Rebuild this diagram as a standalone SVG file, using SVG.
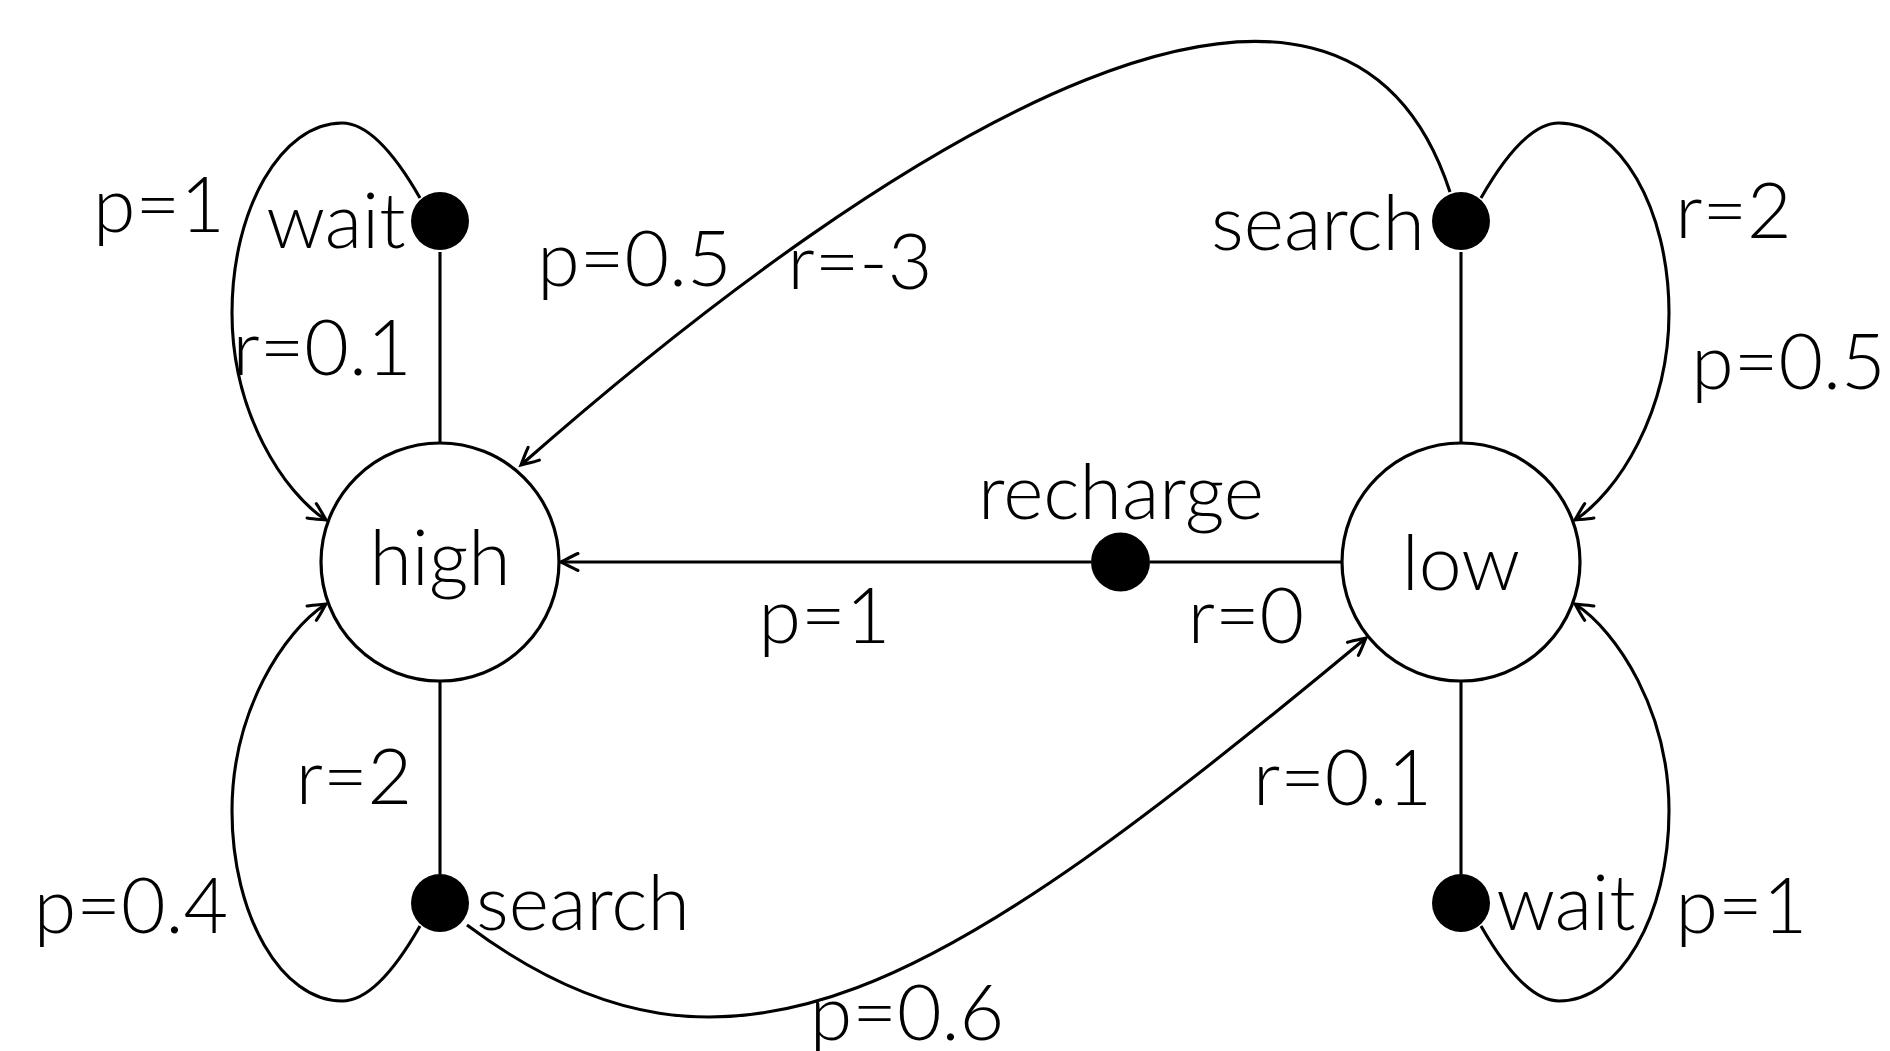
<svg xmlns="http://www.w3.org/2000/svg" width="1890" height="1051" viewBox="0 0 1890 1051">
<defs>
<style>
.st{fill:#fff;stroke:#000;stroke-width:3.2}
.dot{fill:#000}
.ln{fill:none;stroke:#000;stroke-width:3.1}
.arr{marker-end:url(#ah)}
text{font-family:Lato,"Open Sans","Liberation Sans",sans-serif;font-weight:300;font-size:77px;fill:#000;text-anchor:middle}
</style>
<marker id="ah" markerUnits="userSpaceOnUse" viewBox="-20 -10 22 20" refX="0" refY="0" markerWidth="22" markerHeight="20" orient="auto" overflow="visible">
<path d="M -17,-8.5 C -11,-6 -4,-2 0,0 C -4,2 -11,6 -17,8.5" fill="none" stroke="#000" stroke-width="3.1" stroke-linecap="round"/>
</marker>
</defs>
<rect width="1890" height="1051" fill="#fff"/>
<g id="connectors">
<line class="ln" x1="440" y1="252" x2="440" y2="443"/>
<line class="ln" x1="440" y1="681" x2="440" y2="874"/>
<line class="ln" x1="1461" y1="252" x2="1461" y2="443"/>
<line class="ln" x1="1461" y1="681" x2="1461" y2="874"/>
<line class="ln" x1="1342" y1="562" x2="1150" y2="562"/>
<path class="ln arr" d="M 1091,562 L 561,562"/>
<path class="ln arr" d="M 420,198 C 400,163 372,123 342,123 C 281.5,123 232,208.5 232,313 C 232,413 284,493 326,520"/>
<path class="ln arr" d="M 420,926 C 400,961 372,1001 342,1001 C 281.5,1001 232,915.5 232,811 C 232,711 284,631 326,604"/>
<path class="ln arr" d="M 1481,198 C 1501,163 1529,123 1559,123 C 1619.5,123 1669,208.5 1669,313 C 1669,413 1617,493 1575,520"/>
<path class="ln arr" d="M 1481,926 C 1501,961 1529,1001 1559,1001 C 1619.5,1001 1669,915.5 1669,811 C 1669,711 1617,631 1575,604"/>
<path class="ln arr" d="M 1450,192 C 1341.5,-140.5 896,135 521,465"/>
<path class="ln arr" d="M 467,925 C 731,1123 942.5,990 1366,638"/>
</g>
<g id="high"><circle class="st" cx="440" cy="562" r="119"/><text x="440" y="585">high</text></g>
<g id="low"><circle class="st" cx="1461" cy="562" r="119"/><text x="1461" y="590">low</text></g>
<g id="high-wait"><circle class="dot" cx="440" cy="221" r="29"/><text x="336" y="248">wait</text></g>
<g id="high-search"><circle class="dot" cx="440" cy="903" r="29"/><text x="583" y="930">search</text></g>
<g id="low-search"><circle class="dot" cx="1461" cy="221" r="29"/><text x="1318" y="250">search</text></g>
<g id="low-wait"><circle class="dot" cx="1461" cy="903" r="29"/><text x="1566" y="930">wait</text></g>
<g id="low-recharge"><circle class="dot" cx="1120.5" cy="562" r="29.5"/><text x="1121" y="519">recharge</text></g>
<g id="labels">
<text x="159" y="232">p=1</text>
<text x="322" y="375">r=0.1</text>
<text x="634.5" y="286">p=0.5</text>
<text x="860" y="289">r=-3</text>
<text x="1733.5" y="238">r=2</text>
<text x="1788.5" y="389">p=0.5</text>
<text x="824.5" y="643">p=1</text>
<text x="1246" y="643">r=0</text>
<text x="354" y="804">r=2</text>
<text x="1342.5" y="805">r=0.1</text>
<text x="131" y="933">p=0.4</text>
<text x="1741.5" y="933">p=1</text>
<text x="907" y="1040">p=0.6</text>
</g>
</svg>
